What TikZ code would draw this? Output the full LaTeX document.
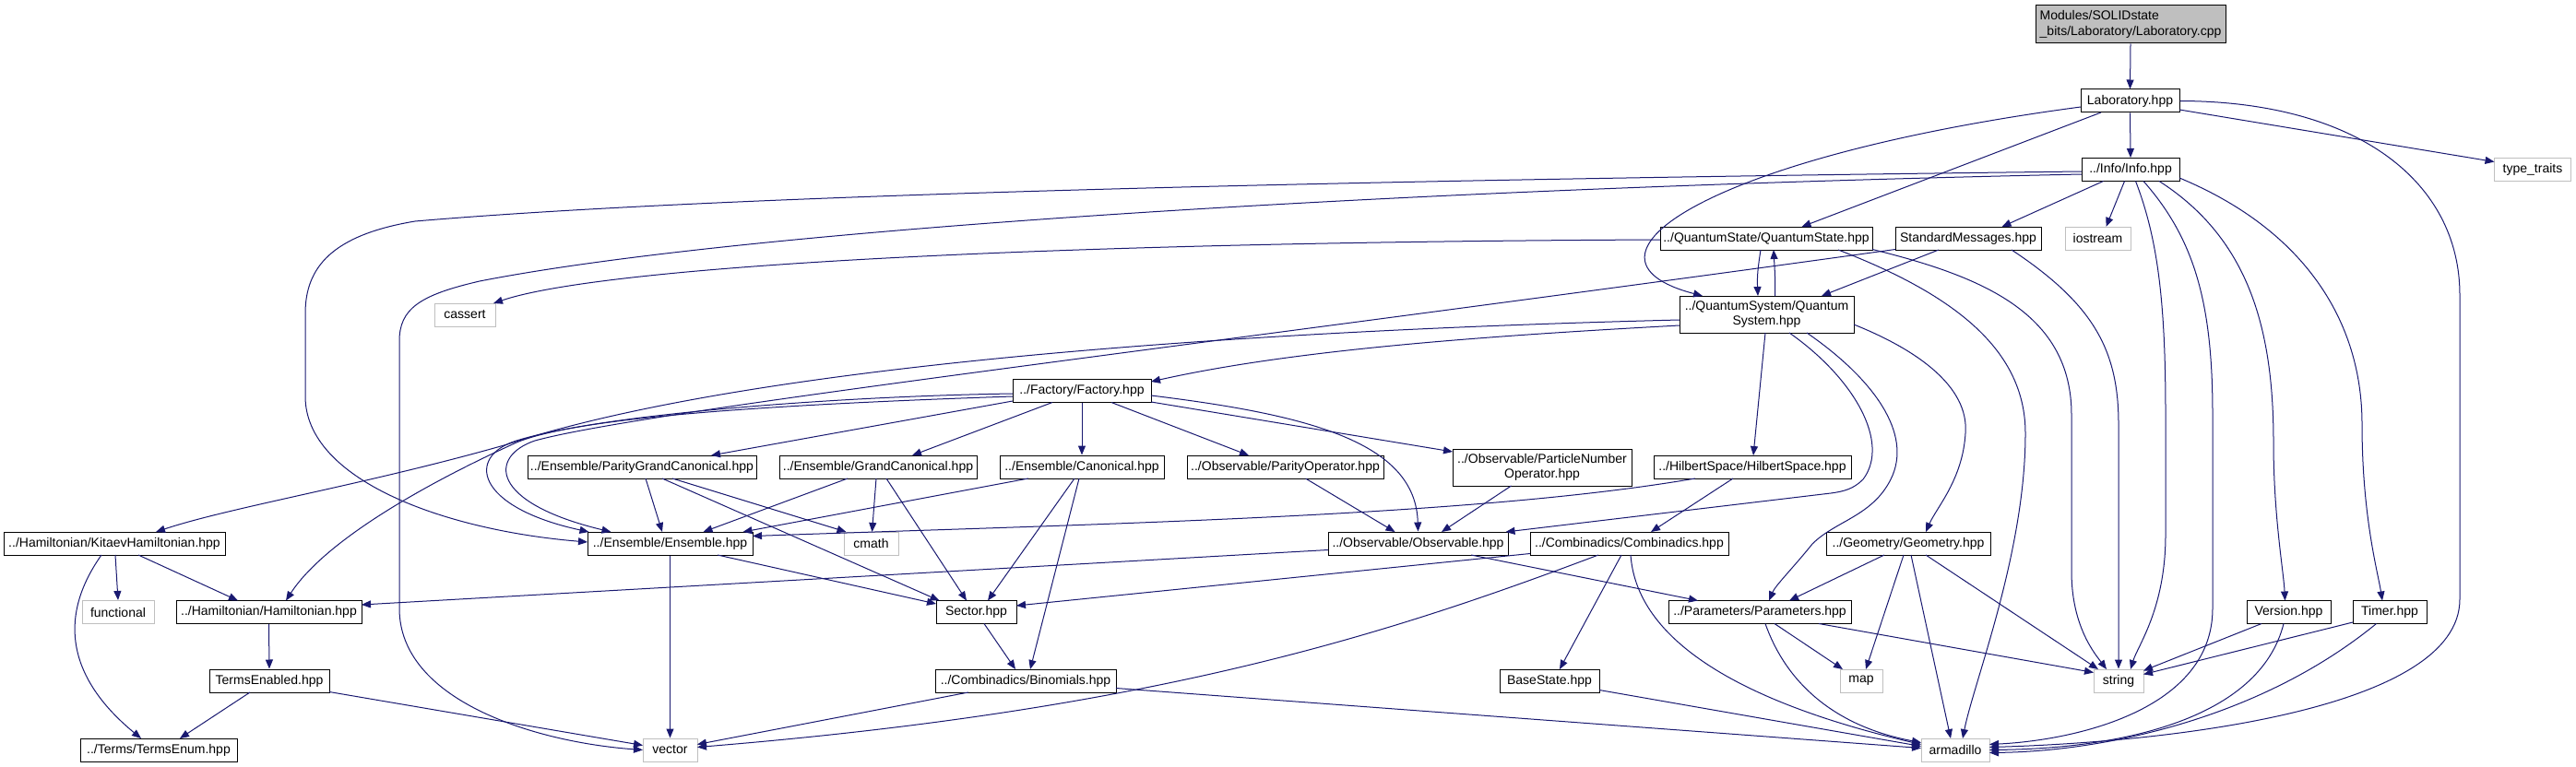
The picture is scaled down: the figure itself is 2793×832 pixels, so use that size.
\documentclass[tikz,border=0pt]{standalone}
\usepackage{fontspec}
\setmainfont{Liberation Sans}
\usetikzlibrary{arrows.meta,calc}
\definecolor{edgec}{HTML}{191970}
\definecolor{grayb}{HTML}{BFBFBF}
\begin{document}
\begin{tikzpicture}[x=1pt,y=-1pt,
  filebox/.style={draw=black, line width=1pt, fill=white, inner sep=0pt, minimum height=25pt, font=\fontsize{14}{16.5}\selectfont, align=center},
  extbox/.style={filebox, draw=grayb},
  dep/.style={draw=edgec, line width=1pt, -{Triangle[length=10pt,width=8pt]}},
]
\useasboundingbox (0,0) rectangle (2793,832);
% nodes
\node[filebox, fill=grayb, minimum width=206pt, minimum height=41pt, align=left] (cpp) at (2310,26.5) {Modules/SOLIDstate\\\_bits/Laboratory/Laboratory.cpp};
\node[filebox, minimum width=107pt] (lab) at (2309.5,109.5) {Laboratory.hpp};
\node[filebox, minimum width=106pt] (info) at (2310,184) {../Info/Info.hpp};
\node[extbox, minimum width=83pt] (tt) at (2746,184) {type\_traits};
\node[filebox, minimum width=230pt] (qstate) at (1915,258.5) {../QuantumState/QuantumState.hpp};
\node[filebox, minimum width=158pt] (stdmsg) at (2134,258.5) {StandardMessages.hpp};
\node[extbox, minimum width=71pt] (iostream) at (2274.5,258.5) {iostream};
\node[extbox, minimum width=66pt] (cassert) at (504,341.5) {cassert};
\node[filebox, minimum width=189pt, minimum height=40pt] (qsys) at (1915.5,341) {../QuantumSystem/Quantum\\System.hpp};
\node[filebox, minimum width=150pt] (factory) at (1173,424) {../Factory/Factory.hpp};
\node[filebox, minimum width=248pt] (pgc) at (696,506.5) {../Ensemble/ParityGrandCanonical.hpp};
\node[filebox, minimum width=214pt] (gc) at (952,506.5) {../Ensemble/GrandCanonical.hpp};
\node[filebox, minimum width=178pt] (canon) at (1173,506.5) {../Ensemble/Canonical.hpp};
\node[filebox, minimum width=213pt] (paropt) at (1393.5,506.5) {../Observable/ParityOperator.hpp};
\node[filebox, minimum width=194pt, minimum height=40pt] (pno) at (1672,507) {../Observable/ParticleNumber\\Operator.hpp};
\node[filebox, minimum width=214pt] (hilbert) at (1900,506.5) {../HilbertSpace/HilbertSpace.hpp};
\node[filebox, minimum width=240pt] (kitaev) at (124,589.5) {../Hamiltonian/KitaevHamiltonian.hpp};
\node[filebox, minimum width=179pt] (ensemble) at (726.5,589.5) {../Ensemble/Ensemble.hpp};
\node[extbox, minimum width=59pt] (cmath) at (944.5,589.5) {cmath};
\node[filebox, minimum width=195pt] (observable) at (1537.5,589.5) {../Observable/Observable.hpp};
\node[filebox, minimum width=215pt] (combin) at (1766.5,589.5) {../Combinadics/Combinadics.hpp};
\node[filebox, minimum width=178pt] (geometry) at (2069,589.5) {../Geometry/Geometry.hpp};
\node[extbox, minimum width=78pt] (functional) at (128,664) {functional};
\node[filebox, minimum width=201pt] (hamil) at (291.5,664) {../Hamiltonian/Hamiltonian.hpp};
\node[filebox, minimum width=87pt] (sector) at (1058.5,664) {Sector.hpp};
\node[filebox, minimum width=198pt] (params) at (1908,664) {../Parameters/Parameters.hpp};
\node[filebox, minimum width=91pt] (version) at (2481.5,664) {Version.hpp};
\node[filebox, minimum width=80pt] (timer) at (2591,664) {Timer.hpp};
\node[filebox, minimum width=130pt] (termsen) at (292,738.5) {TermsEnabled.hpp};
\node[filebox, minimum width=196pt] (binom) at (1112,738.5) {../Combinadics/Binomials.hpp};
\node[filebox, minimum width=108pt] (basestate) at (1680,738.5) {BaseState.hpp};
\node[extbox, minimum width=46pt] (map) at (2018,738.5) {map};
\node[extbox, minimum width=54pt] (string) at (2297,738.5) {string};
\node[filebox, minimum width=170pt] (termsenum) at (172,813.5) {../Terms/TermsEnum.hpp};
\node[extbox, minimum width=59pt] (vector) at (726.5,813.5) {vector};
\node[extbox, minimum width=74pt] (armadillo) at (2120,813.5) {armadillo};
% edges
\draw[dep] (cpp.south) -- (lab.north);
\draw[dep] (lab.south) -- (info.north);
\draw[dep] ($(lab)+(-31.5,12.5)$) -- ($(qstate)+(38.5,-12.5)$);
\draw[dep] ($(lab)+(-53.5,6.5)$) .. controls (1850,170) and (1690,280) .. ($(qsys)+(-69.5,-20)$);
\draw[dep] ($(lab)+(53.5,9.5)$) -- ($(tt)+(-41.5,-8.5)$);
\draw[dep] (lab.east) .. controls (2560,110) and (2667,200) .. (2667,320) -- (2667,650) .. controls (2667,770) and (2350,805) .. ($(armadillo)+(37,-3)$);
\draw[dep] ($(info)+(-53,2)$) .. controls (1500,195) and (800,210) .. (450,240) .. controls (360,255) and (331,290) .. (331,340) -- (331,430) .. controls (331,520) and (480,575) .. ($(ensemble)+(-89.5,-1.5)$);
\draw[dep] ($(info)+(-53,5)$) .. controls (1500,205) and (800,250) .. (520,305) .. controls (455,320) and (433,335) .. (433,370) -- (433,660) .. controls (433,760) and (580,805) .. ($(vector)+(-29.5,0)$);
\draw[dep] ($(info)+(-29.5,12.5)$) -- ($(stdmsg)+(36.5,-12.5)$);
\draw[dep] ($(info)+(-6.5,12.5)$) -- ($(iostream)+(9,-12.5)$);
\draw[dep] ($(info)+(5.5,12.5)$) .. controls (2340,260) and (2348,330) .. (2348,450) -- (2348,580) .. controls (2348,660) and (2318,700) .. ($(string)+(13,-12.5)$);
\draw[dep] ($(info)+(14,12.5)$) .. controls (2380,260) and (2399,330) .. (2399,450) -- (2399,660) .. controls (2399,770) and (2250,803) .. ($(armadillo)+(37,-6)$);
\draw[dep] ($(info)+(31,12.5)$) .. controls (2440,260) and (2465,360) .. (2465,480) .. controls (2465,560) and (2476,620) .. ($(version)+(-4,-12.5)$);
\draw[dep] ($(info)+(53,9)$) .. controls (2500,250) and (2561,350) .. (2561,460) .. controls (2561,560) and (2578,620) .. ($(timer)+(-8,-12.5)$);
\draw[dep] ($(qstate)+(-6,12.5)$) .. controls (1906,290) and (1905,300) .. ($(qsys)+(-9.5,-20)$);
\draw[dep] ($(qsys)+(9,-20)$) .. controls (1925,300) and (1924,290) .. ($(qstate)+(8,12.5)$);
\draw[dep] ($(qstate)+(-115,1.5)$) .. controls (1100,263) and (650,290) .. ($(cassert)+(31,-12.5)$);
\draw[dep] ($(qstate)+(115,12)$) .. controls (2150,300) and (2246,340) .. (2246,450) -- (2246,620) .. controls (2246,680) and (2272,710) .. ($(string)+(-13,-12.5)$);
\draw[dep] ($(qstate)+(78,12.5)$) .. controls (2120,320) and (2196,380) .. (2196,470) .. controls (2196,600) and (2140,740) .. ($(armadillo)+(8,-12.5)$);
\draw[dep] ($(stdmsg)+(-32,12.5)$) -- ($(qsys)+(59.5,-20)$);
\draw[dep] ($(stdmsg)+(47,12.5)$) .. controls (2270,330) and (2297,380) .. (2297,460) -- (string.north);
\draw[dep] ($(stdmsg)+(-79,12)$) .. controls (1300,375) and (700,445) .. (580,478) .. controls (530,495) and (530,545) .. ($(ensemble)+(-64,-12.5)$);
\draw[dep] ($(qsys)+(-94.5,6)$) .. controls (1300,360) and (800,400) .. (550,482) .. controls (400,525) and (250,550) .. ($(kitaev)+(45,-12.5)$);
\draw[dep] ($(qsys)+(-94.5,12)$) .. controls (1600,365) and (1400,380) .. ($(factory)+(75,-10)$);
\draw[dep] ($(qsys)+(-1.5,20)$) -- ($(hilbert)+(1,-12.5)$);
\draw[dep] ($(qsys)+(24.5,20)$) .. controls (2010,410) and (2050,480) .. (2020,520) .. controls (2010,530) and (2000,533) .. (1985,535) -- ($(observable)+(95,-12.5)$);
\draw[dep] ($(qsys)+(43.5,20)$) .. controls (2030,410) and (2075,470) .. (2050,520) .. controls (2030,560) and (1990,565) .. (1965,590) .. controls (1945,615) and (1925,635) .. ($(params)+(10,-12.5)$);
\draw[dep] ($(qsys)+(94.5,11)$) .. controls (2080,380) and (2135,420) .. (2131,470) .. controls (2128,520) and (2100,550) .. ($(geometry)+(19,-12.5)$);
\draw[dep] ($(factory)+(-75,11)$) -- ($(pgc)+(75,-12.5)$);
\draw[dep] ($(factory)+(-32,12.5)$) -- ($(gc)+(37,-12.5)$);
\draw[dep] (factory.south) -- (canon.north);
\draw[dep] ($(factory)+(32,12.5)$) -- ($(paropt)+(-39.5,-12.5)$);
\draw[dep] ($(factory)+(75,12)$) -- ($(pno)+(-97,-17)$);
\draw[dep] ($(factory)+(75,5)$) .. controls (1420,450) and (1535,480) .. (observable.north);
\draw[dep] ($(factory)+(-75,3)$) .. controls (900,430) and (650,450) .. (560,478) .. controls (505,495) and (515,550) .. ($(ensemble)+(-88,-12.5)$);
\draw[dep] ($(factory)+(-75,6)$) .. controls (800,440) and (620,455) .. (560,480) .. controls (450,530) and (350,590) .. ($(hamil)+(18.5,-12.5)$);
\draw[dep] ($(pgc)+(4,12.5)$) -- ($(ensemble)+(-8.5,-12.5)$);
\draw[dep] ($(pgc)+(33,12.5)$) -- ($(cmath)+(-27,-12.5)$);
\draw[dep] ($(pgc)+(22,12.5)$) -- ($(sector)+(-40,-12.5)$);
\draw[dep] ($(gc)+(-33,12.5)$) -- ($(ensemble)+(36,-12.5)$);
\draw[dep] ($(gc)+(-2,12.5)$) -- ($(cmath)+(1,-12.5)$);
\draw[dep] ($(gc)+(9,12.5)$) -- ($(sector)+(-10.5,-12.5)$);
\draw[dep] ($(canon)+(-58,12.5)$) -- ($(ensemble)+(79,-12.5)$);
\draw[dep] ($(canon)+(-8,12.5)$) -- ($(sector)+(12.5,-12.5)$);
\draw[dep] ($(canon)+(-3,12.5)$) -- ($(binom)+(5,-12.5)$);
\draw[dep] ($(paropt)+(22,12.5)$) -- ($(observable)+(-25,-12.5)$);
\draw[dep] ($(pno)+(-33.5,20)$) -- ($(observable)+(25.5,-12.5)$);
\draw[dep] ($(hilbert)+(-62,12.5)$) .. controls (1600,560) and (1200,568) .. ($(ensemble)+(89.5,-8)$);
\draw[dep] ($(hilbert)+(-21,12.5)$) -- ($(combin)+(23.5,-12.5)$);
\draw[dep] ($(observable)+(-97.5,7)$) -- ($(hamil)+(100.5,-8)$);
\draw[dep] ($(observable)+(57.5,12.5)$) -- ($(params)+(-67,-12.5)$);
\draw[dep] ($(combin)+(-107.5,11)$) -- ($(sector)+(43.5,-7)$);
\draw[dep] ($(combin)+(-33.5,12.5)$) .. controls (1500,690) and (1250,770) .. ($(vector)+(29.5,-3)$);
\draw[dep] ($(combin)+(-8.5,12.5)$) -- ($(basestate)+(11,-12.5)$);
\draw[dep] ($(combin)+(1.5,12.5)$) .. controls (1775,700) and (1900,765) .. ($(armadillo)+(-37,-6)$);
\draw[dep] (ensemble.south) -- (vector.north);
\draw[dep] ($(ensemble)+(51.5,12.5)$) -- ($(sector)+(-43.5,-9)$);
\draw[dep] ($(kitaev)+(1,12.5)$) -- (functional.north);
\draw[dep] ($(kitaev)+(26,12.5)$) -- ($(hamil)+(-33.5,-12.5)$);
\draw[dep] ($(kitaev)+(-14,12.5)$) .. controls (55,680) and (85,745) .. ($(termsenum)+(-19,-12.5)$);
\draw[dep] (hamil.south) -- (termsen.north);
\draw[dep] ($(termsen)+(-21,12.5)$) -- ($(termsenum)+(23,-12.5)$);
\draw[dep] ($(termsen)+(65,12)$) -- ($(vector)+(-29.5,-5)$);
\draw[dep] ($(sector)+(8.5,12.5)$) -- ($(binom)+(-11,-12.5)$);
\draw[dep] ($(binom)+(-62,12.5)$) -- ($(vector)+(29.5,-6)$);
\draw[dep] ($(binom)+(98,8)$) -- ($(armadillo)+(-37,-2)$);
\draw[dep] ($(geometry)+(-26,12.5)$) -- ($(params)+(32,-12.5)$);
\draw[dep] ($(geometry)+(-5,12.5)$) -- ($(map)+(5,-12.5)$);
\draw[dep] ($(geometry)+(19,12.5)$) -- ($(string)+(-22,-12.5)$);
\draw[dep] ($(geometry)+(3,12.5)$) -- ($(armadillo)+(-5,-12.5)$);
\draw[dep] ($(params)+(16,12.5)$) -- ($(map)+(-20,-12.5)$);
\draw[dep] ($(params)+(64,12.5)$) -- ($(string)+(-27,-9)$);
\draw[dep] ($(params)+(6,12.5)$) .. controls (1940,750) and (2000,790) .. ($(armadillo)+(-37,-8)$);
\draw[dep] ($(basestate)+(54,10)$) -- ($(armadillo)+(-37,-4)$);
\draw[dep] ($(version)+(-29.5,12.5)$) -- ($(string)+(27,-11)$);
\draw[dep] ($(version)+(-5.5,12.5)$) .. controls (2450,780) and (2300,812) .. ($(armadillo)+(37,0)$);
\draw[dep] ($(timer)+(-40,11)$) -- ($(string)+(27,-7)$);
\draw[dep] ($(timer)+(-14.5,12.5)$) .. controls (2450,780) and (2280,815) .. ($(armadillo)+(37,3)$);
\end{tikzpicture}
\end{document}
